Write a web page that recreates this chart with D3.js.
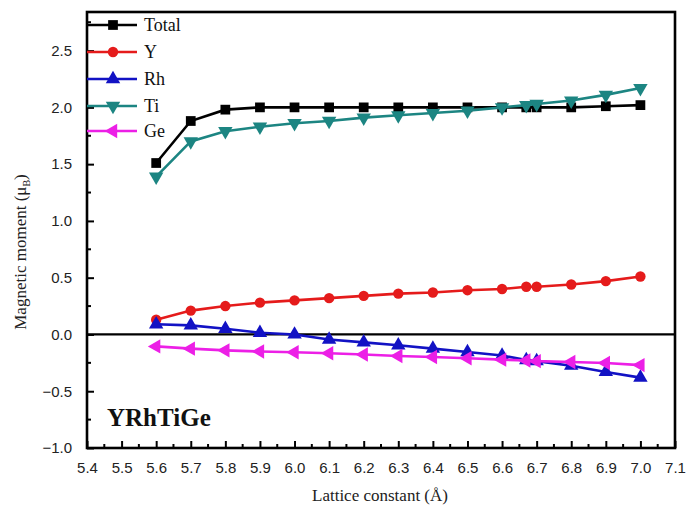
<!DOCTYPE html>
<html>
<head>
<meta charset="utf-8">
<script src="https://cdn.jsdelivr.net/npm/d3@7"></script>
<style>
  html, body { margin: 0; padding: 0; background: #fff; }
  svg { display: block; }
</style>
</head>
<body>
<svg id="chart" width="687" height="508"></svg>
<script>
// Lattice constants (Å) at which the moments were computed
const lattice = [5.6, 5.7, 5.8, 5.9, 6.0, 6.1, 6.2, 6.3, 6.4, 6.5, 6.6, 6.67, 6.7, 6.8, 6.9, 7.0];

// Magnetic moments (μB)
const totalMoment = [1.51, 1.88, 1.98, 2.00, 2.00, 2.00, 2.00, 2.00, 2.00, 2.00, 2.00, 2.00, 2.00, 2.00, 2.01, 2.02];
const yMoment     = [0.13, 0.21, 0.25, 0.28, 0.30, 0.32, 0.34, 0.36, 0.37, 0.39, 0.40, 0.42, 0.42, 0.44, 0.47, 0.51];
const rhMoment    = [0.09, 0.08, 0.05, 0.015, 0.0, -0.045, -0.07, -0.095, -0.125, -0.155, -0.185, -0.225, -0.235, -0.275, -0.33, -0.38];
const tiMoment    = [1.39, 1.70, 1.79, 1.83, 1.86, 1.88, 1.91, 1.93, 1.95, 1.97, 2.00, 2.02, 2.03, 2.06, 2.11, 2.17];
const geMoment    = [-0.105, -0.125, -0.14, -0.15, -0.157, -0.165, -0.177, -0.19, -0.198, -0.21, -0.222, -0.23, -0.235, -0.243, -0.252, -0.27];

const seriesNames = ["Total", "Y", "Rh", "Ti", "Ge"];

// Axis ticks
const xTicks = [5.4, 5.5, 5.6, 5.7, 5.8, 5.9, 6.0, 6.1, 6.2, 6.3, 6.4, 6.5, 6.6, 6.7, 6.8, 6.9, 7.0, 7.1];
const yTicks = [-1.0, -0.5, 0.0, 0.5, 1.0, 1.5, 2.0, 2.5];

const series = [
  { name: seriesNames[0], values: totalMoment, color: "#000000", symbol: d3.symbolSquare,   size: 95, rot: 0 },
  { name: seriesNames[1], values: yMoment,     color: "#e51b1b", symbol: d3.symbolCircle,   size: 85, rot: 0 },
  { name: seriesNames[2], values: rhMoment,    color: "#1212c4", symbol: d3.symbolTriangle, size: 90, rot: 0 },
  { name: seriesNames[3], values: tiMoment,    color: "#1c8582", symbol: d3.symbolTriangle, size: 90, rot: 180 },
  { name: seriesNames[4], values: geMoment,    color: "#ec1fe6", symbol: d3.symbolTriangle, size: 90, rot: -90 }
];

const svg = d3.select("#chart");
const W = 687, H = 508;
const margin = { left: 87, right: 12, top: 12, bottom: 60 };
const x0 = margin.left, x1 = W - margin.right;
const y0 = H - margin.bottom, y1 = margin.top;

const x = d3.scaleLinear().domain([5.4, 7.1]).range([x0, x1]);
const y = d3.scaleLinear().domain([-1.0, 2.84]).range([y0, y1]);

const tickFont = "'Liberation Sans', Arial, sans-serif";
const serif = "'Liberation Serif', 'Times New Roman', serif";

// Minor ticks (inward), halfway between the labelled ones
const xMinor = xTicks.slice(0, -1).map(v => v + 0.05);
const yMinor = yTicks.map(v => v + 0.25).filter(v => v < 2.84);

svg.append("g").selectAll("line").data(xMinor).join("line")
  .attr("x1", d => x(d)).attr("x2", d => x(d))
  .attr("y1", y0).attr("y2", y0 - 4)
  .attr("stroke", "#000").attr("stroke-width", 2);

svg.append("g").selectAll("line").data(yMinor).join("line")
  .attr("x1", x0).attr("x2", x0 + 4)
  .attr("y1", d => y(d)).attr("y2", d => y(d))
  .attr("stroke", "#000").attr("stroke-width", 2);

// Major axes with inward ticks
const xAxis = d3.axisBottom(x).tickValues(xTicks).tickFormat(d3.format(".1f"))
  .tickSizeInner(-7).tickSizeOuter(0).tickPadding(14);
const gx = svg.append("g").attr("transform", `translate(0,${y0})`).call(xAxis);
gx.select(".domain").remove();
gx.selectAll(".tick line").attr("stroke", "#000").attr("stroke-width", 2);
gx.selectAll(".tick text").attr("font-family", tickFont).attr("font-size", 15).attr("fill", "#222");

const yAxis = d3.axisLeft(y).tickValues(yTicks).tickFormat(d3.format(".1f"))
  .tickSizeInner(-7).tickSizeOuter(0).tickPadding(15);
const gy = svg.append("g").attr("transform", `translate(${x0},0)`).call(yAxis);
gy.select(".domain").remove();
gy.selectAll(".tick line").attr("stroke", "#000").attr("stroke-width", 2);
gy.selectAll(".tick text").attr("font-family", tickFont).attr("font-size", 15).attr("fill", "#222");

// Zero reference line
svg.append("line")
  .attr("x1", x0).attr("x2", x1)
  .attr("y1", y(0)).attr("y2", y(0))
  .attr("stroke", "#000").attr("stroke-width", 2.2);

// Series lines and markers
const line = d3.line().x(d => x(d[0])).y(d => y(d[1]));
series.forEach(s => {
  const pts = lattice.map((l, i) => [l, s.values[i]]);
  svg.append("path").datum(pts)
    .attr("d", line)
    .attr("fill", "none")
    .attr("stroke", s.color)
    .attr("stroke-width", 2.6);
  svg.append("g").selectAll("path").data(pts).join("path")
    .attr("d", d3.symbol().type(s.symbol).size(s.size))
    .attr("transform", d => `translate(${x(d[0])},${y(d[1])}) rotate(${s.rot})`)
    .attr("fill", s.color);
});

// Frame
svg.append("rect")
  .attr("x", x0).attr("y", y1)
  .attr("width", x1 - x0).attr("height", y0 - y1)
  .attr("fill", "none").attr("stroke", "#000").attr("stroke-width", 2.6);

// Legend
const legendRows = [25, 52, 79, 106, 131];
const legend = svg.append("g");
series.forEach((s, i) => {
  const ly = legendRows[i];
  legend.append("line")
    .attr("x1", x0).attr("x2", x0 + 50)
    .attr("y1", ly).attr("y2", ly)
    .attr("stroke", s.color).attr("stroke-width", 2.6);
  legend.append("path")
    .attr("d", d3.symbol().type(s.symbol).size(s.size)())
    .attr("transform", `translate(${x0 + 26},${ly}) rotate(${s.rot})`)
    .attr("fill", s.color);
  legend.append("text")
    .attr("x", x0 + 57).attr("y", ly + 6)
    .attr("font-family", serif).attr("font-size", 18)
    .attr("fill", "#111")
    .text(s.name);
});

// Compound label
svg.append("text")
  .attr("x", 107).attr("y", 426)
  .attr("font-family", serif).attr("font-size", 25).attr("font-weight", "bold")
  .attr("fill", "#111")
  .text("YRhTiGe");

// Axis titles
svg.append("text")
  .attr("x", (x0 + x1) / 2 - 1).attr("y", 501)
  .attr("text-anchor", "middle")
  .attr("font-family", serif).attr("font-size", 17).attr("fill", "#222")
  .text("Lattice constant (Å)");

const yt = svg.append("text")
  .attr("transform", `translate(26,252) rotate(-90)`)
  .attr("text-anchor", "middle")
  .attr("font-family", serif).attr("font-size", 17).attr("fill", "#222");
yt.append("tspan").text("Magnetic moment (μ");
yt.append("tspan").attr("font-size", 10).attr("dy", 4).text("B");
yt.append("tspan").attr("dy", -4).text(")");
</script>
</body>
</html>
